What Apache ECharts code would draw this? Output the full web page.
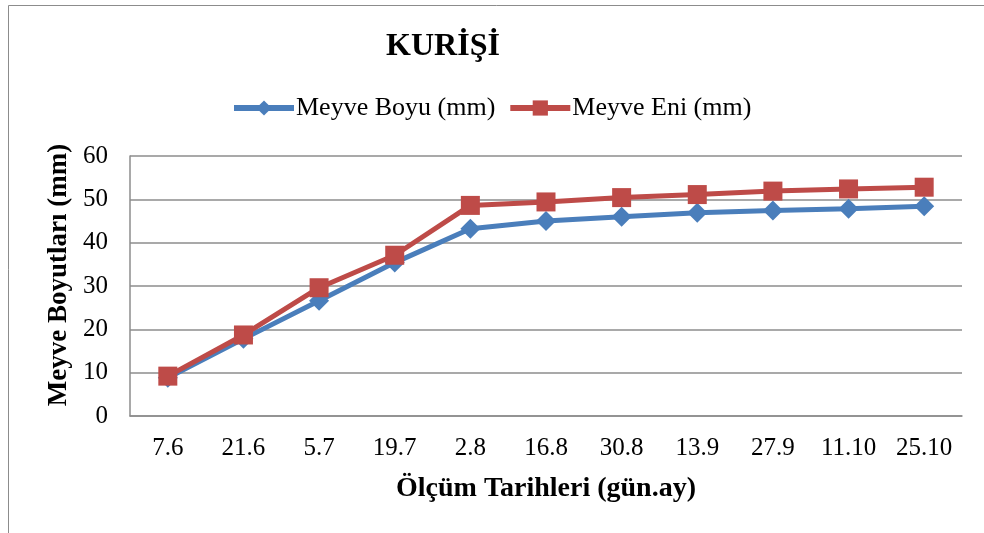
<!DOCTYPE html>
<html>
<head>
<meta charset="utf-8">
<script src="https://cdn.jsdelivr.net/npm/echarts@6/dist/echarts.min.js"></script>
<style>
  html, body { margin: 0; padding: 0; background: #fff; }
  #chart { width: 984px; height: 533px; }
</style>
</head>
<body>
<div id="chart"></div>
<script>
// tarih kategorileri (gün.ay)
var dates = ['7.6', '21.6', '5.7', '19.7', '2.8', '16.8', '30.8', '13.9', '27.9', '11.10', '25.10'];
// meyve boyu (mm)
var boyu = [8.8, 17.8, 26.6, 35.4, 43.2, 45.0, 46.0, 46.9, 47.4, 47.8, 48.4];
// meyve eni (mm)
var eni = [9.2, 18.7, 29.6, 37.1, 48.6, 49.4, 50.4, 51.1, 51.9, 52.4, 52.8];

var font = '"Liberation Serif", "Times New Roman", serif';
var gridColor = '#8c8c8c';
var blue = '#4a7ebb';
var red = '#be4b48';

var chart = echarts.init(document.getElementById('chart'));

var option = {
  backgroundColor: '#fff',
  animation: false,
  textStyle: { fontFamily: font },
  graphic: [{
    type: 'rect',
    shape: { x: 8.5, y: 5.5, width: 1100, height: 700 },
    style: { fill: 'none', stroke: '#8c8c8c', lineWidth: 1 },
    silent: true
  }],
  title: {
    text: 'KURİŞİ',
    left: 438,
    top: 26,
    textAlign: 'center',
    textStyle: { fontFamily: font, fontSize: 32, fontWeight: 'bold', color: '#000' }
  },
  legend: {
    top: 90,
    left: 226,
    itemGap: 12,
    itemWidth: 60,
    itemHeight: 19,
    textStyle: { fontFamily: font, fontSize: 26, color: '#000', padding: [0, 0, 0, -3] },
    data: [
      { name: 'Meyve Boyu (mm)', lineStyle: { width: 6, color: blue } },
      { name: 'Meyve Eni (mm)', lineStyle: { width: 6, color: red } }
    ]
  },
  grid: { left: 130, right: 22, top: 156, bottom: 117 },
  xAxis: {
    type: 'category',
    data: dates,
    boundaryGap: true,
    name: 'Ölçüm Tarihleri (gün.ay)',
    nameLocation: 'middle',
    nameGap: 59,
    nameTextStyle: { fontFamily: font, fontSize: 28, fontWeight: 'bold', color: '#000' },
    axisLine: { lineStyle: { color: gridColor, width: 1.5 } },
    axisTick: { show: false },
    axisLabel: { fontFamily: font, fontSize: 25, color: '#000', margin: 20 }
  },
  yAxis: {
    type: 'value',
    min: 0,
    max: 60,
    interval: 10,
    name: 'Meyve Boyutları (mm)',
    nameLocation: 'middle',
    nameRotate: 90,
    nameGap: 54,
    nameTextStyle: { fontFamily: font, fontSize: 27, fontWeight: 'bold', color: '#000', padding: [0, 0, 0, 22] },
    axisLine: { show: true, lineStyle: { color: gridColor, width: 1.5 } },
    axisTick: { show: false },
    axisLabel: { fontFamily: font, fontSize: 25, color: '#000', margin: 22 },
    splitLine: { lineStyle: { color: gridColor, width: 1.5 } }
  },
  series: [
    {
      name: 'Meyve Boyu (mm)',
      type: 'line',
      data: boyu,
      symbol: 'diamond',
      symbolSize: 20,
      lineStyle: { color: blue, width: 5 },
      itemStyle: { color: blue }
    },
    {
      name: 'Meyve Eni (mm)',
      type: 'line',
      data: eni,
      symbol: 'rect',
      symbolSize: 19,
      lineStyle: { color: red, width: 5 },
      itemStyle: { color: red }
    }
  ]
};

chart.setOption(option);
</script>
</body>
</html>
